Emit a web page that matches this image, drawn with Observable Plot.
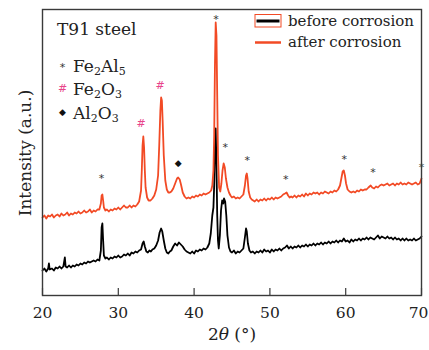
<!DOCTYPE html>
<html><head><meta charset="utf-8">
<script src="https://cdn.jsdelivr.net/npm/d3@7"></script>
<script src="https://cdn.jsdelivr.net/npm/@observablehq/plot@0.6"></script>
<style>body{margin:0;background:#fff} svg{display:block}</style>
</head><body><div id="chart"></div>
<script>
const xTicks = [20, 30, 40, 50, 60, 70];
const seriesNames = ["before corrosion", "after corrosion"];
const seriesColors = ["#000000", "#f24a25"];
const titleText = "T91 steel";
const xLabel = ["2", "θ", " (°)"];
const yLabel = "Intensity (a.u.)";

// [2θ, intensity (a.u.)]
const beforeCorrosion = [
[20.0,25],[20.25,27],[20.5,24],[20.75,27],[20.85,32],[20.95,26],[21.25,27],[21.5,25],[21.75,28],[22.0,27],
[22.25,29],[22.5,27],[22.75,29],[22.95,38],[23.05,29],[23.25,28],[23.5,30],[23.75,28],[24.0,30],[24.25,29],
[24.5,31],[24.75,30],[25.0,32],[25.25,31],[25.5,33],[25.75,32],[26.0,34],[26.25,33],[26.5,34],[26.75,35],
[27.0,34],[27.25,36],[27.5,35],[27.7,45],[27.8,68],[27.9,72],[28.0,55],[28.1,40],[28.3,37],[28.5,38],
[28.75,36],[29.0,38],[29.25,37],[29.5,39],[29.75,38],[30.0,40],[30.25,38],[30.5,39],[30.75,41],[31.0,40],
[31.25,42],[31.5,40],[31.75,43],[32.0,42],[32.25,44],[32.5,43],[32.75,45],[33.0,46],[33.2,52],[33.35,54],
[33.5,49],[33.7,44],[33.9,43],[34.1,45],[34.3,44],[34.5,46],[34.75,47],[35.0,50],[35.25,55],[35.45,63],
[35.65,67],[35.8,64],[36.0,55],[36.2,47],[36.4,43],[36.6,42],[36.8,44],[37.0,45],[37.25,49],[37.5,52],
[37.75,50],[38.0,53],[38.25,51],[38.5,49],[38.75,46],[39.0,44],[39.25,43],[39.5,42],[39.75,44],[40.0,42],
[40.25,45],[40.5,44],[40.75,46],[41.0,45],[41.25,47],[41.5,46],[41.75,48],[42.0,52],[42.2,62],[42.4,80],
[42.55,88],[42.65,110],[42.75,150],[42.85,167],[42.95,130],[43.05,80],[43.15,55],[43.25,47],[43.4,60],[43.55,85],
[43.7,95],[43.85,92],[43.95,97],[44.1,94],[44.25,80],[44.4,60],[44.6,48],[44.8,44],[45.0,43],[45.25,45],
[45.5,42],[45.75,44],[46.0,43],[46.25,45],[46.5,47],[46.7,58],[46.85,67],[46.95,64],[47.1,52],[47.3,45],
[47.5,43],[47.75,44],[48.0,42],[48.25,44],[48.5,43],[48.75,45],[49.0,43],[49.25,46],[49.5,44],[49.75,45],
[50.0,43],[50.25,46],[50.5,44],[50.75,46],[51.0,45],[51.25,47],[51.5,45],[51.75,47],[52.0,48],[52.25,50],
[52.5,47],[52.75,49],[53.0,47],[53.25,49],[53.5,48],[53.75,50],[54.0,48],[54.25,50],[54.5,49],[54.75,51],
[55.0,49],[55.25,51],[55.5,50],[55.75,52],[56.0,50],[56.25,52],[56.5,51],[56.75,53],[57.0,51],[57.25,53],
[57.5,52],[57.75,54],[58.0,52],[58.25,54],[58.5,53],[58.75,55],[59.0,53],[59.25,55],[59.5,54],[59.75,57],
[60.0,54],[60.25,55],[60.5,53],[60.75,56],[61.0,54],[61.25,56],[61.5,55],[61.75,57],[62.0,55],[62.25,57],
[62.5,56],[62.75,58],[63.0,56],[63.25,58],[63.5,57],[63.75,56],[64.0,58],[64.25,60],[64.5,57],[64.75,59],
[65.0,58],[65.25,57],[65.5,59],[65.75,57],[66.0,58],[66.25,56],[66.5,58],[66.75,56],[67.0,57],[67.25,55],
[67.5,57],[67.75,55],[68.0,57],[68.25,55],[68.5,56],[68.75,55],[69.0,57],[69.25,55],[69.5,56],[69.75,57],[70.0,59]
];

const afterCorrosion = [
[20.0,78],[20.25,80],[20.5,77],[20.75,80],[21.0,79],[21.25,81],[21.5,78],[21.75,80],[22.0,81],[22.25,79],
[22.5,82],[22.75,80],[23.0,81],[23.25,83],[23.5,80],[23.75,82],[24.0,81],[24.25,83],[24.5,82],[24.75,84],
[25.0,82],[25.25,83],[25.5,85],[25.75,83],[26.0,84],[26.25,86],[26.5,83],[26.75,85],[27.0,84],[27.25,86],
[27.5,86],[27.7,92],[27.8,100],[27.9,101],[28.0,95],[28.1,88],[28.3,85],[28.5,86],[28.75,84],[29.0,86],
[29.25,85],[29.5,87],[29.75,86],[30.0,88],[30.25,86],[30.5,88],[30.75,90],[31.0,88],[31.25,88],[31.5,90],
[31.75,88],[32.0,90],[32.25,89],[32.5,91],[32.75,94],[33.0,105],[33.1,125],[33.2,150],[33.3,159],[33.4,148],
[33.5,125],[33.6,108],[33.8,98],[34.0,95],[34.25,95],[34.5,97],[34.75,100],[35.0,106],[35.25,120],[35.4,150],
[35.55,185],[35.65,198],[35.75,195],[35.85,175],[36.0,140],[36.2,115],[36.4,106],[36.6,103],[36.8,103],[37.0,104],
[37.25,107],[37.5,112],[37.75,117],[37.9,118],[38.1,116],[38.3,110],[38.5,103],[38.75,99],[39.0,97],[39.25,98],
[39.5,97],[39.75,99],[40.0,98],[40.25,100],[40.5,99],[40.75,101],[41.0,100],[41.25,102],[41.5,101],[41.75,102],
[42.0,103],[42.25,105],[42.4,110],[42.55,125],[42.65,160],[42.75,230],[42.85,273],[42.95,260],[43.05,200],[43.15,140],
[43.3,108],[43.45,104],[43.6,112],[43.75,125],[43.9,132],[44.05,128],[44.2,117],[44.4,108],[44.6,103],[44.8,100],
[45.0,98],[45.25,99],[45.5,97],[45.75,98],[46.0,97],[46.25,99],[46.5,101],[46.7,110],[46.85,120],[46.95,122],
[47.05,117],[47.2,104],[47.4,98],[47.6,96],[47.8,95],[48.0,94],[48.25,96],[48.5,94],[48.75,96],[49.0,95],
[49.25,97],[49.5,95],[49.75,97],[50.0,96],[50.25,98],[50.5,96],[50.75,98],[51.0,97],[51.25,98],[51.5,99],
[51.75,101],[52.0,102],[52.2,103],[52.4,100],[52.6,98],[52.8,99],[53.0,98],[53.25,100],[53.5,98],[53.75,100],
[54.0,99],[54.25,101],[54.5,99],[54.75,102],[55.0,100],[55.25,102],[55.5,101],[55.75,103],[56.0,102],[56.25,103],
[56.5,101],[56.75,103],[57.0,102],[57.25,104],[57.5,103],[57.75,102],[58.0,104],[58.25,103],[58.5,105],[58.75,104],
[59.0,106],[59.25,110],[59.45,118],[59.6,124],[59.75,125],[59.9,120],[60.05,112],[60.25,106],[60.5,104],[60.75,103],
[61.0,104],[61.25,103],[61.5,105],[61.75,104],[62.0,106],[62.25,105],[62.5,106],[62.75,106],[63.0,108],[63.3,110],
[63.5,108],[63.75,107],[64.0,109],[64.25,108],[64.5,110],[64.75,111],[65.0,110],[65.25,111],[65.5,112],[65.75,110],
[66.0,111],[66.25,112],[66.5,110],[66.75,112],[67.0,111],[67.25,113],[67.5,111],[67.75,112],[68.0,111],[68.25,113],
[68.5,112],[68.75,111],[69.0,112],[69.25,113],[69.5,111],[69.75,112],[69.9,115],[70.0,117]
];

// phase markers above peaks
const starAngles = [27.8, 42.9, 44.1, 47.0, 52.1, 59.8, 63.6, 70.0];
const starLevels = [120, 279, 151, 138, 119, 139, 126, 131];
const hashAngles = [33.0, 35.5];
const hashLevels = [172, 210];
const diamondAngles = [37.9];
const diamondLevels = [132];

// phase legend
const phaseSymbols = ["*", "#", "◆"];
const phaseColors = ["#333333", "#e8448a", "#111111"];
const phaseLabels = [["Fe","2","Al","5"], ["Fe","2","O","3"], ["Al","2","O","3"]];

const serif = "'DejaVu Serif', serif";
const idx = (a) => a.map((_, i) => i);

const chart = Plot.plot({
  width: 429, height: 350,
  marginLeft: 42, marginRight: 8, marginTop: 9, marginBottom: 55,
  style: {fontFamily: serif, background: "#fff"},
  x: {domain: [20, 70]},
  y: {domain: [0, 286], axis: null},
  marks: [
    Plot.line(beforeCorrosion, {x: d => d[0], y: d => d[1], stroke: seriesColors[0], strokeWidth: 1.8}),
    Plot.line(afterCorrosion, {x: d => d[0], y: d => d[1], stroke: seriesColors[1], strokeWidth: 1.8}),
    Plot.text(idx(starAngles), {x: i => starAngles[i], y: i => starLevels[i], text: () => "*", fontFamily: "'DejaVu Sans', sans-serif", fontSize: 11, fill: "#333", dy: 3}),
    Plot.text(idx(hashAngles), {x: i => hashAngles[i], y: i => hashLevels[i], text: () => "#", fontFamily: "'DejaVu Sans', sans-serif", fontSize: 11, fill: phaseColors[1]}),
    Plot.text(idx(diamondAngles), {x: i => diamondAngles[i], y: i => diamondLevels[i], text: () => "◆", fontFamily: "'DejaVu Sans', sans-serif", fontSize: 9, fill: "#111"}),
    Plot.ruleX(xTicks, {x: d => d, y1: 0, y2: 7, stroke: "#3a3a3a", strokeWidth: 1.2}),
    Plot.axisX({ticks: xTicks, tickSize: 0, tickPadding: 11, fontSize: 15.5, tickFormat: d => String(d), label: null, color: "#222"}),
    Plot.frame({stroke: "#3a3a3a", strokeWidth: 1.4})
  ]
});
document.getElementById("chart").appendChild(chart);

const svg = d3.select(chart);
// nudge the last tick label so it stays inside the picture, as in the reference
const tickTexts = svg.selectAll("g[aria-label='x-axis tick label'] text").nodes();
if (tickTexts.length) d3.select(tickTexts[tickTexts.length - 1]).attr("dx", -3);

const g = svg.append("g").attr("font-family", serif).attr("fill", "#222").attr("text-anchor", "start");

// title
g.append("text").attr("x", 57).attr("y", 35).attr("font-size", 17).text(titleText);

// phase legend rows
phaseLabels.forEach((parts, i) => {
  const y = 71.5 + i * 23.5;
  g.append("text")
    .attr("x", 62.5).attr("y", y - 7).attr("text-anchor", "middle").attr("dominant-baseline", "central")
    .attr("font-family", "'DejaVu Sans', sans-serif")
    .attr("font-size", i === 2 ? 9 : 11)
    .attr("dy", i === 0 ? 3 : 0)
    .attr("fill", phaseColors[i]).text(phaseSymbols[i]);
  const t = g.append("text").attr("x", 73).attr("y", y).attr("font-size", 17);
  parts.forEach((p, k) => {
    const sub = k % 2 === 1;
    t.append("tspan").attr("font-size", sub ? 11 : 17).attr("dy", sub ? 3 : (k === 0 ? 0 : -3)).text(p);
  });
});

// series legend
g.append("rect").attr("x", 255).attr("y", 14.5).attr("width", 26).attr("height", 12.5)
  .attr("fill", "none").attr("stroke", seriesColors[1]).attr("stroke-width", 1);
g.append("line").attr("x1", 256.5).attr("x2", 279.5).attr("y1", 21).attr("y2", 21)
  .attr("stroke", seriesColors[0]).attr("stroke-width", 3);
g.append("line").attr("x1", 255).attr("x2", 281).attr("y1", 42.5).attr("y2", 42.5)
  .attr("stroke", seriesColors[1]).attr("stroke-width", 2.5);
seriesNames.forEach((s, i) => {
  g.append("text").attr("x", 288).attr("y", 25.5 + i * 21.5).attr("font-size", 15).text(s);
});

// axis labels
g.append("text").attr("transform", "translate(25,153) rotate(-90)").attr("text-anchor", "middle")
  .attr("dominant-baseline", "central").attr("font-size", 17).text(yLabel);
const xl = g.append("text").attr("x", 232).attr("y", 340).attr("text-anchor", "middle").attr("font-size", 17);
xl.append("tspan").text(xLabel[0]);
xl.append("tspan").attr("font-style", "italic").text(xLabel[1]);
xl.append("tspan").text(xLabel[2]);
</script>
</body></html>
